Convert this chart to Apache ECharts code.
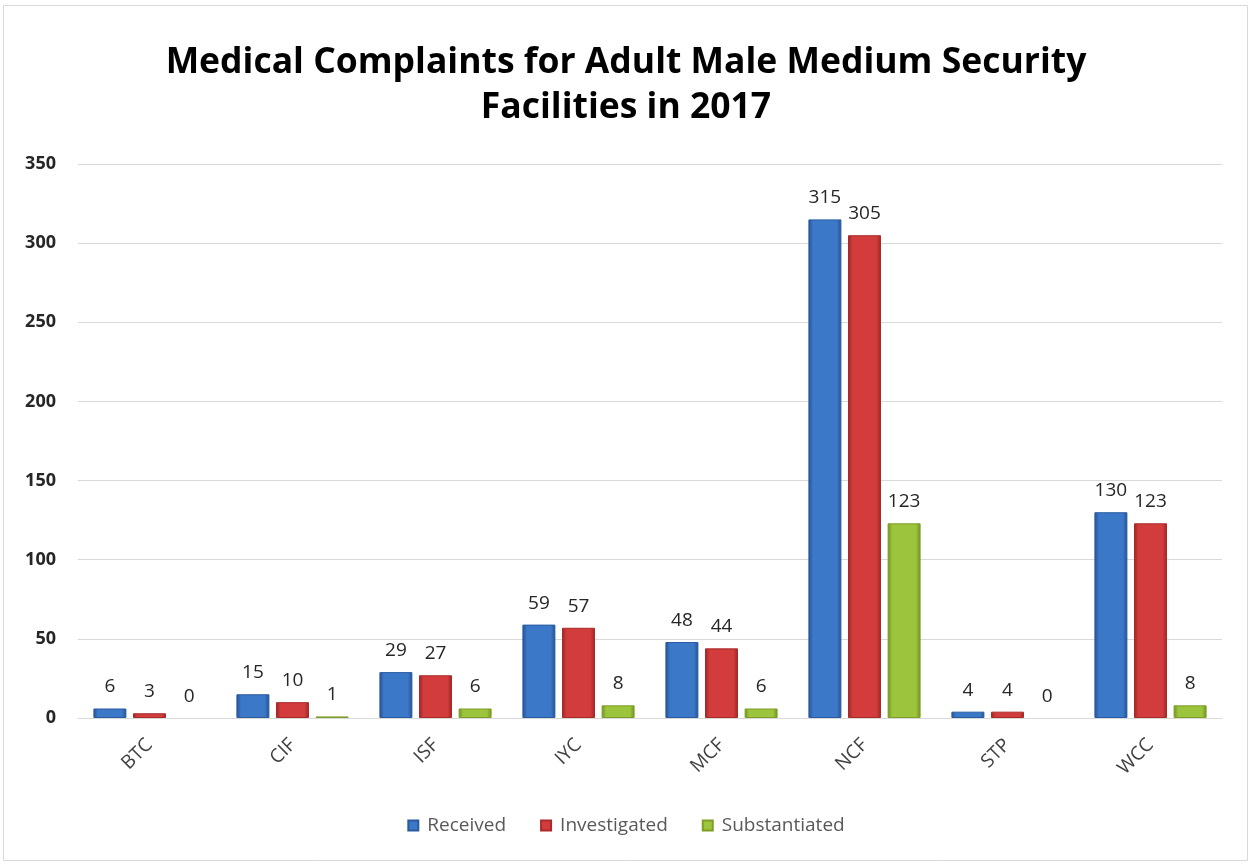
<!DOCTYPE html>
<html>
<head>
<meta charset="utf-8">
<script src="https://cdn.jsdelivr.net/npm/echarts@6/dist/echarts.min.js"></script>
<style>
  html, body { margin: 0; padding: 0; background: #ffffff; }
  #chart { width: 1252px; height: 865px; }
</style>
</head>
<body>
<div id="chart"></div>
<script>
// Facilities and complaint counts
const facilities = ['BTC', 'CIF', 'ISF', 'IYC', 'MCF', 'NCF', 'STP', 'WCC'];
const received = [6, 15, 29, 59, 48, 315, 4, 130];
const investigated = [3, 10, 27, 57, 44, 305, 4, 123];
const substantiated = [0, 1, 6, 8, 6, 123, 0, 8];
const yTicks = [0, 50, 100, 150, 200, 250, 300, 350];

// Bevel-like fill: darker edges, lighter middle
function bevel(edge, mid) {
  return new echarts.graphic.LinearGradient(0, 0, 1, 0, [
    { offset: 0, color: edge },
    { offset: 0.14, color: mid },
    { offset: 0.86, color: mid },
    { offset: 1, color: edge }
  ]);
}

const labelFont = { fontFamily: 'Open Sans', fontSize: 19, color: '#262626' };

function barSeries(name, values, edge, mid, border) {
  return {
    name: name,
    type: 'bar',
    // zero-height bars get no outline so nothing shows on the axis
    data: values.map(v => v === 0
      ? { value: v, itemStyle: { borderWidth: 0 } }
      : v),
    barWidth: 33,
    barGap: '20%',
    itemStyle: { color: bevel(edge, mid), borderColor: border, borderWidth: 1 },
    label: Object.assign({ show: true, position: 'top', distance: 12 }, labelFont)
  };
}

const chart = echarts.init(document.getElementById('chart'), null, { renderer: 'canvas' });
chart.setOption({
  animation: false,
  backgroundColor: '#ffffff',
  title: {
    text: 'Medical Complaints for Adult Male Medium Security\nFacilities in 2017',
    left: 'center',
    top: 35,
    textStyle: {
      fontFamily: 'Open Sans',
      fontWeight: 'bold',
      fontSize: 35.5,
      lineHeight: 45,
      color: '#000000'
    }
  },
  graphic: [{
    type: 'rect',
    shape: { x: 3.5, y: 5.5, width: 1244, height: 855 },
    style: { fill: 'none', stroke: '#d9d9d9', lineWidth: 1 },
    silent: true
  }],
  legend: {
    bottom: 25,
    left: 'center',
    icon: 'rect',
    itemWidth: 10,
    itemHeight: 10,
    itemGap: 34,
    textStyle: { fontFamily: 'Open Sans', fontSize: 19, color: '#595959', padding: [0, 0, 0, 4] },
    data: ['Received', 'Investigated', 'Substantiated']
  },
  grid: { left: 78, right: 30, top: 164, bottom: 147 },
  xAxis: {
    type: 'category',
    data: facilities,
    axisTick: { show: false },
    axisLine: { lineStyle: { color: '#d9d9d9', width: 1 } },
    axisLabel: {
      rotate: 45,
      margin: 24,
      fontFamily: 'Open Sans',
      fontSize: 19,
      color: '#404040'
    }
  },
  yAxis: {
    type: 'value',
    min: yTicks[0],
    max: yTicks[yTicks.length - 1],
    interval: 50,
    axisLine: { show: false },
    axisTick: { show: false },
    splitLine: { lineStyle: { color: '#d9d9d9', width: 1 } },
    axisLabel: {
      margin: 22,
      fontFamily: 'Open Sans',
      fontWeight: 'bold',
      fontSize: 18,
      color: '#262626'
    }
  },
  series: [
    barSeries('Received', received, '#254f90', '#3c78c8', '#2a5ba0'),
    barSeries('Investigated', investigated, '#9c2424', '#d23c3c', '#aa2a2a'),
    barSeries('Substantiated', substantiated, '#6f8e20', '#9cc43c', '#7e9e28')
  ]
});
</script>
</body>
</html>
